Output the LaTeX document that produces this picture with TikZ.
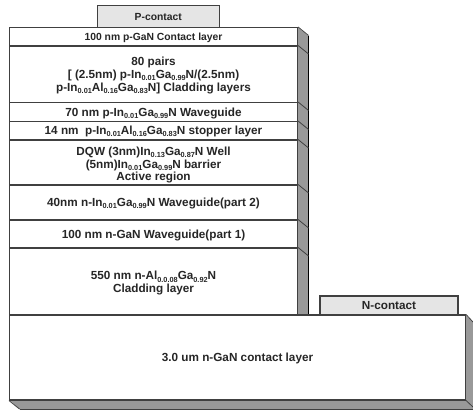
\documentclass[tikz,border=0pt]{standalone}
\usepackage{fontspec}
\setmainfont{Liberation Sans}
\newcommand{\lay}[5][]{%
  \node[layerbox, minimum height={(#4-#3)*0.75pt}] (#2) at (153.5,{(#3+#4)/2}) {};
  \node[layertext,#1] (#2t) at (#2.center) {#5};
  \draw[edge] (#2.north east) -- ++(10.5,8.5);
}
\newcommand{\sbs}[1]{\raisebox{-1.6pt}{\fontsize{5.5}{6}\selectfont #1}}
\begin{document}
\begin{tikzpicture}[x=0.75pt,y=-0.75pt,
  edge/.style={draw=black!75,line width=0.6pt},
  smalltext/.style={font=\fontsize{7.75}{9.3}\selectfont\bfseries},
  layerbox/.style={draw=black!75,fill=white,line width=0.8pt,minimum width=216pt,inner sep=0pt},
  layertext/.style={inner sep=0pt,align=center,yshift=-0.8pt,font=\fontsize{8.8}{9.6}\selectfont\bfseries,text=black!85},
  contactbox/.style={draw=black!75,fill=black!10,line width=0.8pt,inner sep=0pt,font=\fontsize{8.8}{9.6}\selectfont\bfseries,text=black!85}]
\useasboundingbox (0,0) rectangle (473,410);
% side faces
\fill[black!40] (298,27.5) -- (308.5,36) -- (308.5,315) -- (298,315) -- cycle;
\draw[black,line width=0.9pt] (308.5,36) -- (308.5,315);
\fill[black!40] (465.5,315) -- (473,322) -- (473,409) -- (19.5,409) -- (9.5,400) -- (465.5,400) -- cycle;
\draw[edge] (19.5,409) -- (473,409);
\draw[edge] (465.5,400) -- (473,407);
% contacts
\node[contactbox,smalltext,minimum width=91.5pt,minimum height=16.5pt] (pc) at (158.25,16.5) {P-contact};
\node[contactbox,minimum width=103.5pt,minimum height=14.25pt] (nc) at (389,305.5) {N-contact};
% layers
\lay[smalltext]{l1}{27.5}{46}{100 nm p-GaN Contact layer}
\lay{l2}{46}{102.5}{80 pairs\\ {[} (2.5nm) p-In\sbs{0.01}Ga\sbs{0.99}N/(2.5nm)\\ p-In\sbs{0.01}Al\sbs{0.16}Ga\sbs{0.83}N] Cladding layers}
\lay{l3}{102.5}{121.5}{70 nm p-In\sbs{0.01}Ga\sbs{0.99}N Waveguide}
\lay{l4}{121.5}{140}{14 nm\ \ p-In\sbs{0.01}Al\sbs{0.16}Ga\sbs{0.83}N stopper layer}
\lay[yshift=-1.2pt]{l5}{140}{185}{DQW (3nm)In\sbs{0.13}Ga\sbs{0.87}N Well\\ (5nm)In\sbs{0.01}Ga\sbs{0.99}N barrier\\ Active region}
\lay{l6}{185}{220}{40nm n-In\sbs{0.01}Ga\sbs{0.99}N Waveguide(part 2)}
\lay{l7}{220}{248}{100 nm n-GaN Waveguide(part 1)}
\lay[yshift=-0.6pt]{l8}{248}{315}{550 nm n-Al\sbs{0.0.08}Ga\sbs{0.92}N\\ Cladding layer}
\node[layerbox,minimum width=342pt,minimum height=63.75pt] (sub) at (237.5,357.5) {};
\node[layertext] (subt) at (sub.center) {3.0 um n-GaN contact layer};
\draw[edge] (sub.south west) -- (19.5,409);
\draw[edge] (sub.north east) -- (473,322);
\end{tikzpicture}
\end{document}
